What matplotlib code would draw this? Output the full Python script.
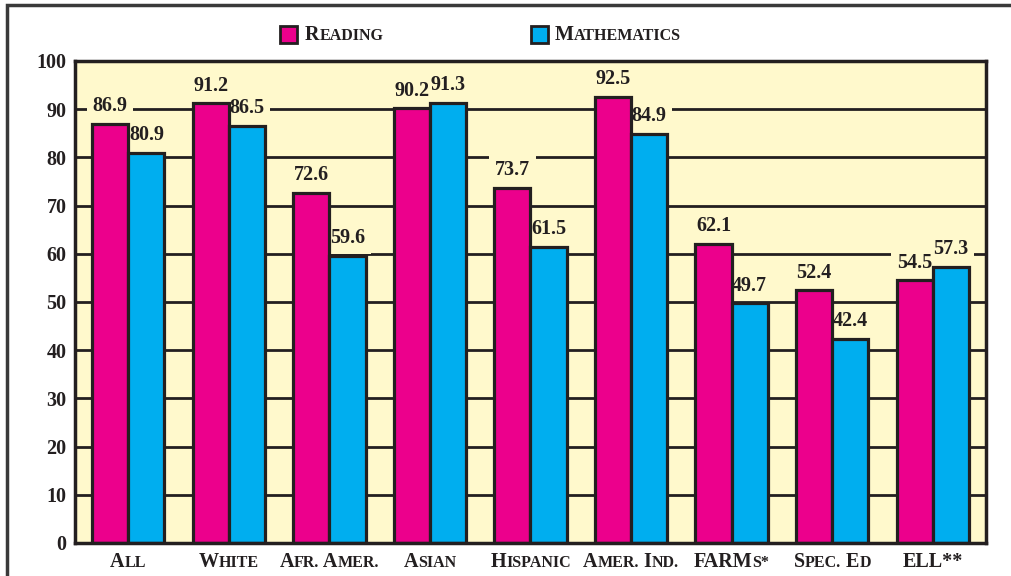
import matplotlib
matplotlib.use("Agg")
import matplotlib.pyplot as plt
from matplotlib.patches import Rectangle
from matplotlib.transforms import offset_copy
import numpy as np

# data
groepen = ["All", "White", "Afr. Amer.", "Asian", "Hispanic", "Amer. Ind.", "FARMs*", "Spec. Ed", "ELL**"]
reading = [86.9, 91.2, 72.6, 90.2, 73.7, 92.5, 62.1, 52.4, 54.5]
math = [80.9, 86.5, 59.6, 91.3, 61.5, 84.9, 49.7, 42.4, 57.3]
yticks = [0, 10, 20, 30, 40, 50, 60, 70, 80, 90, 100]

MAGENTA = "#EC008C"
CYAN = "#00AEEF"
BG = "#FFF9CC"
INK = "#231F20"
FONT = "Liberation Serif"

fig = plt.figure(figsize=(10.12, 5.76), dpi=100)
ax = fig.add_axes([0.0741, 0.0573, 0.9002, 0.8368])
ax.set_facecolor(BG)

x = np.arange(len(groepen))
w = 0.36
ax.bar(x - w / 2, reading, w, color=MAGENTA, edgecolor=INK, linewidth=2.3, zorder=3)
ax.bar(x + w / 2, math, w, color=CYAN, edgecolor=INK, linewidth=2.3, zorder=3)

for y in yticks[1:-1]:
    ax.axhline(y, color=INK, linewidth=2.0, zorder=1)

# value labels: a blank box under the bars hides the gridlines, the digits go on top
for xi, r, m in zip(x, reading, math):
    for xx, v in ((xi - w / 2, r), (xi + w / 2, m)):
        kw = dict(ha="center", va="bottom", fontsize=14.5, fontweight="bold", family=FONT)
        ax.text(xx, v + 1.6, f"{v}", color=BG, zorder=2,
                bbox=dict(facecolor=BG, edgecolor="none", pad=4), **kw)
        ax.text(xx, v + 1.6, f"{v}", color=INK, zorder=5, **kw)

ax.set_xlim(-0.53, len(groepen) - 0.47)
ax.set_ylim(0, 100)
ax.set_yticks(yticks)
ax.set_yticklabels([str(t) for t in yticks], fontsize=14.5, fontweight="bold", family=FONT, color=INK)
ax.tick_params(axis="y", length=0, pad=6)
ax.set_xticks([])
for s in ax.spines.values():
    s.set_linewidth(2.5)
    s.set_color(INK)
    s.set_zorder(4)

# outer frame
fig.patches.append(Rectangle((7 / 1012, -0.1), 1.2, 1.1 - 5 / 576, transform=fig.transFigure,
                             fill=False, edgecolor="#3a3a3a", linewidth=2.5))


def split_runs(tekst):
    runs = []
    for ch in tekst:
        if ch.isalpha():
            kind = "big" if ch.isupper() else "small"
        else:
            kind = runs[-1][0] if runs else "big"
            if ch == " ":
                kind = "big"
        if runs and runs[-1][0] == kind:
            runs[-1][1] += ch.upper()
        else:
            runs.append([kind, ch.upper()])
    return runs


def small_caps(xpos, ypos, tekst, trans, big=14.5, small=11.5):
    parts = []
    for kind, s in split_runs(tekst):
        t = fig.text(xpos, ypos, s, transform=trans, ha="left", va="baseline",
                     fontsize=big if kind == "big" else small, fontweight="bold",
                     family=FONT, color=INK)
        parts.append(t)
    return parts


renderer = fig.canvas.get_renderer()
groups = []
for xi, g in zip(x, groepen):
    groups.append((small_caps(xi, -0.05, g, ax.get_xaxis_transform()), ax.get_xaxis_transform(), True))
groups.append((small_caps(305 / 1012, 1 - 40 / 576, "Reading", fig.transFigure), fig.transFigure, False))
groups.append((small_caps(555 / 1012, 1 - 40 / 576, "Mathematics", fig.transFigure), fig.transFigure, False))

for parts, trans, center in groups:
    widths = [p.get_window_extent(renderer).width for p in parts]
    off = -sum(widths) / 2 if center else 0
    for p, wd in zip(parts, widths):
        p.set_transform(offset_copy(trans, fig=fig, x=off, y=0, units="dots"))
        off += wd

# legend squares
for xs, c in ((280, MAGENTA), (531, CYAN)):
    fig.patches.append(Rectangle((xs / 1012, 1 - 43 / 576), 17 / 1012, 17 / 576,
                                 transform=fig.transFigure, facecolor=c, edgecolor=INK, linewidth=2))

fig.savefig("out.png", dpi=100)
